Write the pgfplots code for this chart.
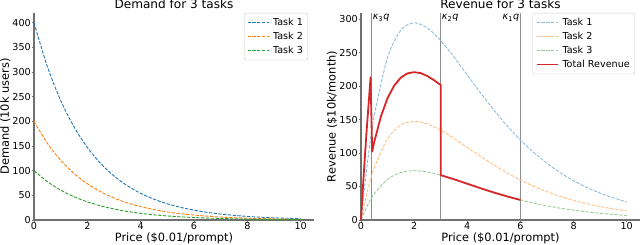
\documentclass[border=0pt]{standalone}
\usepackage{fontspec}
\setmainfont{DejaVu Sans}
\usepackage{pgfplots}
\pgfplotsset{compat=1.18}
\definecolor{tabblue}{HTML}{1F77B4}
\definecolor{taborange}{HTML}{FF7F0E}
\definecolor{tabgreen}{HTML}{2CA02C}
\definecolor{tabred}{HTML}{D62728}
\definecolor{spinegray}{HTML}{707070}
\pgfplotsset{
  mystyle/.style={
    scale only axis,
    axis x line*=bottom, axis y line*=left,
    axis line style={draw=spinegray, line width=1.2pt},
    tick style={draw=spinegray, line width=0.8pt},
    major tick length=2pt, tick align=outside,
    xmin=0, xmax=10.5, ymin=0,
    xtick={0,2,...,10},
    tick label style={font=\fontsize{9.6}{11}\selectfont},
    xticklabel style={inner sep=0.5pt},
    yticklabel style={inner sep=1pt},
    every axis x label/.style={at={(axis description cs:0.5,0)}, anchor=north, yshift=-12.5pt, inner sep=0pt, font=\fontsize{11.4}{13}\selectfont},
    every axis y label/.style={at={(ticklabel cs:0.5)}, rotate=90, anchor=south, inner sep=1pt, font=\fontsize{11.4}{13}\selectfont},
    every axis title shift=0pt,
    title style={at={(axis description cs:0.5,1)}, anchor=base, yshift=4pt, inner sep=0pt, font=\fontsize{12.1}{14}\selectfont},
    /pgf/number format/assume math mode=true,
    legend cell align=left,
    legend style={anchor=north east, draw=black!20, fill=white,
      rounded corners=2pt, font=\fontsize{9.6}{11}\selectfont, row sep=1.2pt, column sep=2pt, inner sep=3pt},
    legend image code/.code={\draw[#1] (0pt,0pt) -- (21pt,0pt);},
  },
  dsh/.style={line width=0.9pt, dash pattern=on 3.3pt off 1.5pt},
}
\begin{document}
\begin{tikzpicture}
\path[use as bounding box] (0,0) rectangle (640pt,245pt);
\begin{axis}[mystyle, at={(34pt,25pt)}, anchor=south west, width=280pt, height=207pt,
  ymax=420, ytick={0,50,...,400},
  title={Demand for 3 tasks}, xlabel={Price (\$0.01/prompt)}, ylabel={Demand (10k users)},
  legend style={at={(0.979,1)}}]
\addplot[dsh, color=tabblue, smooth] coordinates {(0,400)(0.5,311.5)(1,242.6)(1.5,189.0)(2,147.2)(2.5,114.6)(3,89.3)(3.5,69.5)(4,54.1)(4.5,42.2)(5,32.8)(5.5,25.6)(6,19.9)(6.5,15.5)(7,12.1)(7.5,9.4)(8,7.3)(8.5,5.7)(9,4.4)(9.5,3.5)(10,2.7)};
\addlegendentry{Task 1}
\addplot[dsh, color=taborange, smooth] coordinates {(0,200)(0.5,155.8)(1,121.3)(1.5,94.5)(2,73.6)(2.5,57.3)(3,44.6)(3.5,34.8)(4,27.1)(4.5,21.1)(5,16.4)(5.5,12.8)(6,10.0)(6.5,7.8)(7,6.0)(7.5,4.7)(8,3.7)(8.5,2.9)(9,2.2)(9.5,1.7)(10,1.3)};
\addlegendentry{Task 2}
\addplot[dsh, color=tabgreen, smooth] coordinates {(0,100)(0.5,77.9)(1,60.7)(1.5,47.2)(2,36.8)(2.5,28.7)(3,22.3)(3.5,17.4)(4,13.5)(4.5,10.5)(5,8.2)(5.5,6.4)(6,5.0)(6.5,3.9)(7,3.0)(7.5,2.4)(8,1.8)(8.5,1.4)(9,1.1)(9.5,0.9)(10,0.7)};
\addlegendentry{Task 3}
\end{axis}
\begin{axis}[mystyle, at={(361pt,25pt)}, anchor=south west, width=279pt, height=207pt,
  ymax=309, ytick={0,50,...,300}, clip=false,
  title={Revenue for 3 tasks}, xlabel={Price (\$0.01/prompt)}, ylabel={Revenue (\$10k/month)},
  legend style={at={(0.982,1)}}]
\addplot[spinegray!80, line width=0.8pt, forget plot] coordinates {(0.4,0)(0.4,309)};
\addplot[spinegray!80, line width=0.8pt, forget plot] coordinates {(3,0)(3,309)};
\addplot[spinegray!80, line width=0.8pt, forget plot] coordinates {(6,0)(6,309)};
\addplot[dsh, color=tabblue!50, smooth] coordinates {(0,0)(0.25,88.2)(0.5,155.8)(1,242.6)(1.5,283.4)(2,294.3)(2.5,286.5)(3,267.8)(3.5,243.3)(4,216.5)(4.5,189.7)(5,164.2)(5.5,140.6)(6,119.5)(6.5,100.9)(7,84.6)(7.5,70.5)(8,58.6)(8.5,48.6)(9,40.0)(9.5,33.1)(10,27.0)};
\addlegendentry{Task 1}
\addplot[dsh, color=taborange!50, smooth] coordinates {(0,0)(0.25,44.1)(0.5,77.9)(1,121.3)(1.5,141.7)(2,147.2)(2.5,143.3)(3,133.9)(3.5,121.7)(4,108.3)(4.5,94.9)(5,82.1)(5.5,70.3)(6,59.7)(6.5,50.5)(7,42.3)(7.5,35.3)(8,29.3)(8.5,24.3)(9,20.0)(9.5,16.6)(10,13.5)};
\addlegendentry{Task 2}
\addplot[dsh, color=tabgreen!50, smooth] coordinates {(0,0)(0.25,22.1)(0.5,39.0)(1,60.7)(1.5,70.9)(2,73.6)(2.5,71.6)(3,66.9)(3.5,60.8)(4,54.1)(4.5,47.4)(5,41.0)(5.5,35.2)(6,29.9)(6.5,25.2)(7,21.2)(7.5,17.6)(8,14.7)(8.5,12.2)(9,10.0)(9.5,8.3)(10,6.7)};
\addlegendentry{Task 3}
\addplot[color=tabred, line width=1.8pt, line join=round] coordinates {(0,0)(0.1,66.6)(0.2,126.7)(0.3,180.7)(0.36,213)(0.42,102.1)(0.5,116.8)(0.75,154.6)(1,182.0)(1.25,200.7)(1.5,212.6)(1.75,218.9)(2,220.7)(2.25,219.2)(2.5,214.9)(2.75,208.6)(3,201.5)(3,66.9)(3.5,60.8)(4,54.1)(4.5,47.4)(5,41.0)(5.5,35.2)(6,29.9)};
\addlegendentry{Total Revenue}
\node[anchor=north west, inner sep=1pt, font=\fontsize{9.6}{11}\selectfont] at (axis cs:0.4,309) {\itshape κ\textsubscript{\upshape 3}q};
\node[anchor=north west, inner sep=1pt, font=\fontsize{9.6}{11}\selectfont] at (axis cs:3,309) {\itshape κ\textsubscript{\upshape 2}q};
\node[anchor=north east, inner sep=1pt, font=\fontsize{9.6}{11}\selectfont] at (axis cs:6,309) {\itshape κ\textsubscript{\upshape 1}q};
\end{axis}
\end{tikzpicture}
\end{document}
